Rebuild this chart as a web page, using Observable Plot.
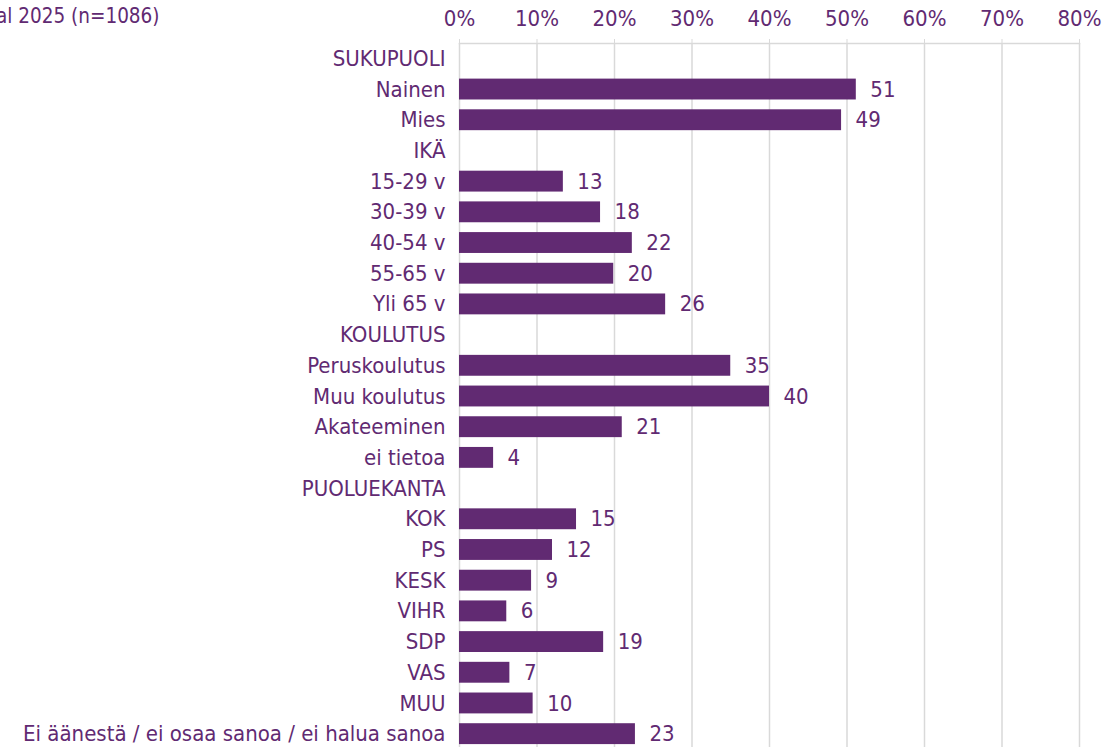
<!DOCTYPE html>
<html><head><meta charset="utf-8">
<script src="https://cdn.jsdelivr.net/npm/d3@7"></script>
<script src="https://cdn.jsdelivr.net/npm/@observablehq/plot@0.6"></script>
<style>
html,body{margin:0;padding:0;background:#fff;overflow:hidden;}
#wrap{position:relative;width:1104px;height:747px;overflow:hidden;}
#title{position:absolute;left:-4px;top:4px;font-family:"DejaVu Sans Condensed","DejaVu Sans",sans-serif;font-size:20.5px;color:#612a72;white-space:nowrap;}
</style></head><body><div id="wrap"><div id="title">al 2025 (n=1086)</div><div id="chart"></div></div>
<script>
const categories = ["SUKUPUOLI","Nainen","Mies","IKÄ","15-29 v","30-39 v","40-54 v","55-65 v","Yli 65 v","KOULUTUS","Peruskoulutus","Muu koulutus","Akateeminen","ei tietoa","PUOLUEKANTA","KOK","PS","KESK","VIHR","SDP","VAS","MUU","Ei äänestä / ei osaa sanoa / ei halua sanoa"];
const values = [null,51.2,49.3,null,13.4,18.2,22.3,19.9,26.6,null,35.0,40.0,21.0,4.4,null,15.1,12.0,9.3,6.1,18.6,6.5,9.5,22.7];
const valueLabels = [null,"51","49",null,"13","18","22","20","26",null,"35","40","21","4",null,"15","12","9","6","19","7","10","23"];
const xTicks = [0,10,20,30,40,50,60,70,80];

const rows = categories.map((c,i)=>({cat:c, value:values[i], label:valueLabels[i]})).filter(d=>d.value!=null);
const purple = "#612a72";
const font = "'DejaVu Sans Condensed','DejaVu Sans',sans-serif";

const chart = Plot.plot({
  width:1104, height:749,
  marginLeft:459, marginRight:25, marginTop:43, marginBottom:0,
  style:{fontFamily:font, fontSize:"22px", color:purple, background:"transparent", overflow:"visible"},
  x:{domain:[0,80], label:null},
  y:{domain:categories, paddingInner:0.32, paddingOuter:0.16, round:false, label:null},
  marks:[
    Plot.gridX(xTicks, {stroke:"#d9d9d9", strokeOpacity:1, strokeWidth:1.5}),
    Plot.frame({anchor:"top", stroke:"#d9d9d9", strokeWidth:1.5}),
    Plot.barX(rows, {x:"value", y:"cat", fill:purple}),
    Plot.text(rows, {x:"value", y:"cat", text:"label", dx:14, textAnchor:"start", fill:purple, fontSize:22}),
    Plot.axisX({anchor:"top", ticks:xTicks, tickFormat:d=>d+"%", tickSize:5, tickPadding:13, stroke:"#d9d9d9", fill:purple, fontSize:22, label:null}),
    Plot.axisY({tickSize:0, tickPadding:14, fill:purple, fontSize:22, label:null})
  ]
});
document.getElementById("chart").appendChild(chart);
</script></body></html>
